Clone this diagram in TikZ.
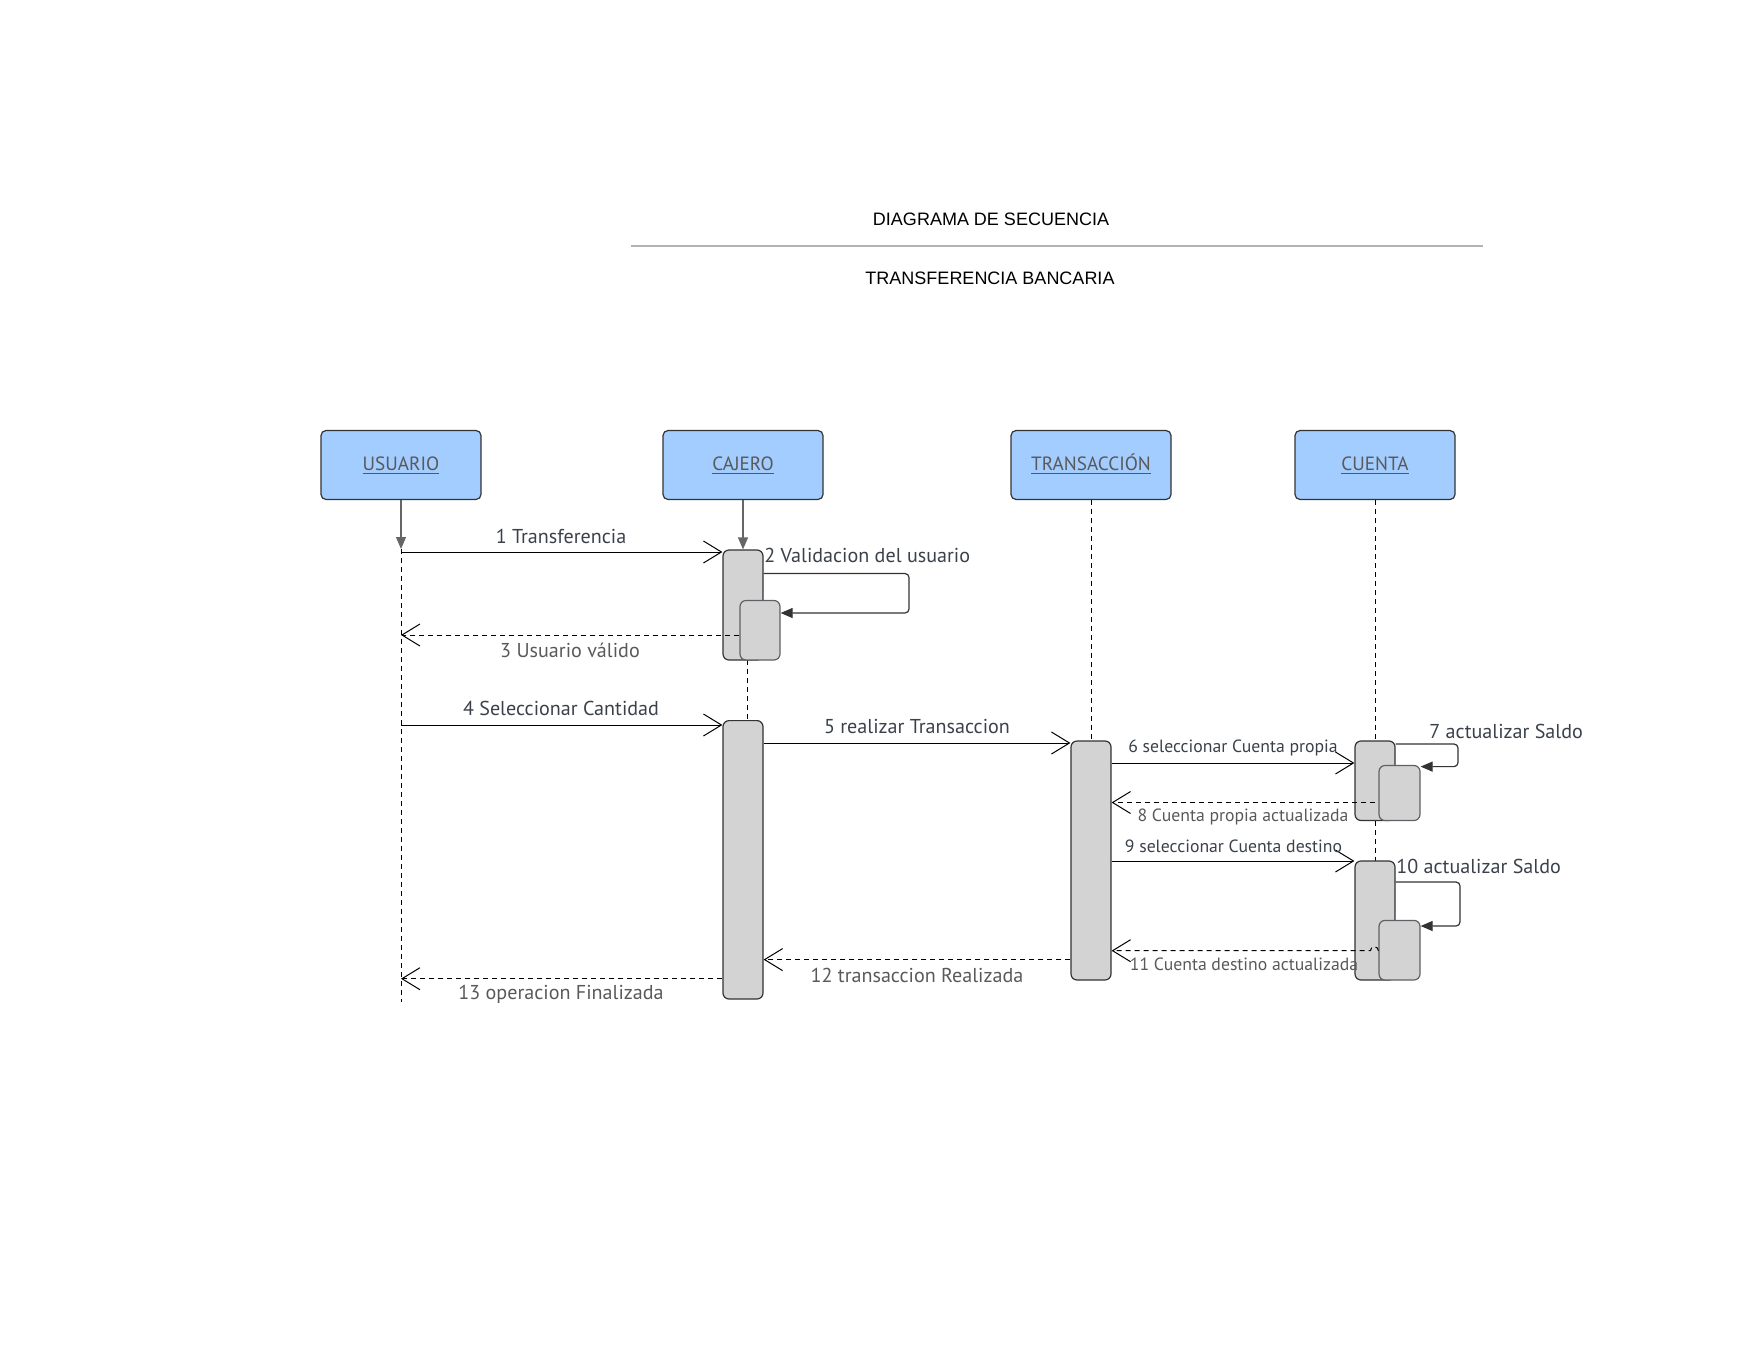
\documentclass[tikz,border=0pt]{standalone}
\usepackage{fontspec}
\setmainfont{PT Sans}
\newfontfamily\titlefont{Liberation Sans}
\usetikzlibrary{arrows.meta,fit}
\definecolor{actorblue}{HTML}{A3CCFF}
\definecolor{actgray}{HTML}{D3D3D3}
\definecolor{linegray}{HTML}{333333}
\definecolor{nestgray}{HTML}{5E6266}
\definecolor{headgray}{HTML}{666666}
\definecolor{textdark}{HTML}{3A414A}
\definecolor{textgray}{HTML}{595959}
\definecolor{rulegray}{HTML}{B3B3B3}

\begin{document}
\begin{tikzpicture}[x=0.5pt,y=-0.5pt,
    actor/.style={draw=linegray, fill=actorblue, rounded corners=2.5pt, minimum width=80pt, minimum height=34.5pt, line width=0.6pt, text=textgray, text height=7pt, text depth=2pt, font=\fontsize{9.6}{11}\selectfont},
    act/.style={draw=linegray, fill=actgray, rounded corners=3pt, inner sep=0pt, line width=0.6pt},
    nest/.style={act, draw=nestgray},
    life/.style={dash pattern=on 2.5pt off 2pt, line width=0.5pt},
    head/.style={-{Triangle[length=6pt,width=5pt]}, draw=headgray, fill=headgray, line width=0.6pt},
    msg/.style={-{Straight Barb[length=9pt,width=11pt]}, line width=0.5pt},
    ret/.style={msg, dash pattern=on 2.5pt off 2pt},
    self/.style={-{Triangle[length=6pt,width=5pt]}, draw=linegray, rounded corners=2pt, line width=0.6pt},
    lbl/.style={inner sep=0pt, text=textdark, font=\fontsize{10.05}{12}\selectfont},
    rlbl/.style={lbl, text=textgray},
    slbl/.style={inner sep=0pt, text=textdark, font=\fontsize{8.85}{10}\selectfont},
    srlbl/.style={slbl, text=textgray},
    ttl/.style={font=\titlefont\fontsize{9}{11}\selectfont}]
  \useasboundingbox (0,0) rectangle (1760,1360);
  \node[ttl] (t1) at (991,219) {DIAGRAMA DE SECUENCIA};
  \node[ttl] (t2) at (990,278) {TRANSFERENCIA BANCARIA};
  \draw[rulegray, line width=0.8pt] (631,246) -- (1483,246);
  \node[actor] (usuario) at (401,465) {\underline{USUARIO}};
  \node[actor] (cajero) at (743,465) {\underline{CAJERO}};
  \node[actor] (transaccion) at (1091,465) {\underline{TRANSACCIÓN}};
  \node[actor] (cuenta) at (1375,465) {\underline{CUENTA}};
  \coordinate (ua) at (401,549);
  \coordinate (uend) at (401,1002);
  \draw[life] (ua) -- (uend);
  \draw[head] (usuario.south) -- (ua);
  \draw[life] ([xshift=2pt]743,660) -- ([xshift=2pt]743,720.6);
  \draw[life] (transaccion.south) -- (1091,741);
  \draw[life] (cuenta.south) -- (1375,741);
  \draw[life] (1375,820.5) -- (1375,861);
  \node[act, fit={(723,550)(763,660)}] (cajA) {};
  \node[act, fit={(723,720.6)(763,999)}] (cajB) {};
  \node[act, fit={(1071,741)(1111,980)}] (traA) {};
  \node[act, fit={(1355,741)(1395,820.5)}] (cueA) {};
  \node[act, fit={(1355,861)(1395,980)}] (cueB) {};
  \draw[head] (cajero.south) -- (cajA.north);
  \coordinate (m1) at (401,552);
  \coordinate (m3) at (401,635);
  \coordinate (m4) at (401,725);
  \coordinate (m5) at (1091,743);
  \coordinate (m6) at (1375,763);
  \coordinate (m8) at (1375,802.5);
  \coordinate (m9) at (1375,861);
  \coordinate (m11) at (1375,950.7);
  \coordinate (m12) at (1091,959.6);
  \coordinate (m13) at (401,978.7);
  \coordinate (s2a) at (909,573.5);
  \coordinate (s2b) at (909,613);
  \coordinate (s7a) at (1458,744);
  \coordinate (s7b) at (1458,766.6);
  \coordinate (s10a) at (1460,882);
  \coordinate (s10b) at (1460,926);
  \draw[msg] (m1) -- (m1 -| cajA.west);
  \draw[msg] (m4) -- (m4 -| cajB.west);
  \draw[msg] (m5 -| cajB.east) -- (m5 -| traA.west);
  \draw[msg] (m6 -| traA.east) -- (m6 -| cueA.west);
  \draw[ret] (m8) -- (m8 -| traA.east);
  \draw[msg] (m9 -| traA.east) -- (m9 -| cueB.west);
  \draw[ret] (m12 -| traA.west) -- (m12 -| cajB.east);
  \draw[ret] (m13 -| cajB.west) -- (m13);
  \node[nest, fit={(740,600.5)(780,660)}] (cajAn) {};
  \node[nest, fit={(1379,765.5)(1420,820.5)}] (cueAn) {};
  \node[nest, fit={(1379,920.4)(1420,980)}] (cueBn) {};
  \draw[self] (cajA.east |- s2a) -- (s2a) -- (s2b) -- (cajAn.east |- s2b);
  \draw[self] (cueA.east |- s7a) -- (s7a) -- (s7b) -- (cueAn.east |- s7b);
  \draw[self] (cueB.east |- s10a) -- (s10a) -- (s10b) -- (cueBn.east |- s10b);
  \draw[ret] (m3 -| cajAn.west) -- (m3);
  \draw[ret] (m11 -| cueBn.west) arc[start angle=0, end angle=-180, radius=4] -- (m11 -| traA.east);
  \node[lbl] (l1) at (561,536.5) {1 Transferencia};
  \node[lbl, anchor=west] (l2) at (764,555.6) {2 Validacion del usuario};
  \node[rlbl] (l3) at (570,650) {3 Usuario válido};
  \node[lbl] (l4) at (561,708) {4 Seleccionar Cantidad};
  \node[lbl] (l5) at (917,726) {5 realizar Transaccion};
  \node[slbl] (l6) at (1233,747.5) {6 seleccionar Cuenta propia};
  \node[lbl, anchor=west] (l7) at (1429,731) {7 actualizar Saldo};
  \node[srlbl] (l8) at (1243,817) {8 Cuenta propia actualizada};
  \node[slbl] (l9) at (1233.5,846) {9 seleccionar Cuenta destino};
  \node[lbl, anchor=west] (l10) at (1396,866.5) {10 actualizar Saldo};
  \node[srlbl] (l11) at (1244,964) {11 Cuenta destino actualizada};
  \node[rlbl] (l12) at (917,975) {12 transaccion Realizada};
  \node[rlbl] (l13) at (561,994.5) {13 operacion Finalizada};
\end{tikzpicture}
\end{document}
